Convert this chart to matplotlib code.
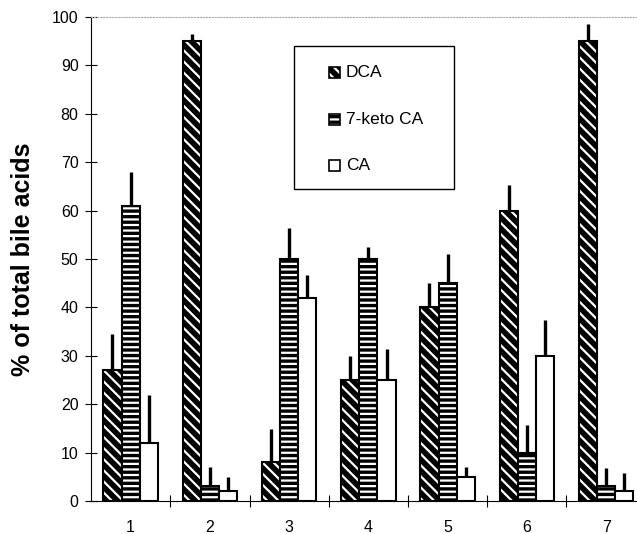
import numpy as np
import matplotlib
matplotlib.use('Agg')
import matplotlib.pyplot as plt
from matplotlib.patches import Rectangle

# data (% of total bile acids)
groups = ['1', '2', '3', '4', '5', '6', '7']
dca = [27, 95, 8, 25, 40, 60, 95]
keto = [61, 3, 50, 50, 45, 10, 3]
ca = [12, 2, 42, 25, 5, 30, 2]
# upper error only
dca_err = [7.5, 1.5, 6.8, 5, 5, 5.3, 3.5]
keto_err = [7, 4, 6.5, 2.5, 6, 5.6, 3.8]
ca_err = [9.9, 2.9, 4.7, 6.5, 2, 7.4, 3.8]

series_names = ['DCA', '7-keto CA', 'CA']

plt.rcParams['font.family'] = ['Liberation Sans', 'DejaVu Sans']
plt.rcParams['hatch.linewidth'] = 1.6

fig = plt.figure(figsize=(6.37, 5.34), dpi=100)
ax = fig.add_axes([0.1429, 0.0618, 0.8571, 0.9064])

x = np.arange(1, len(groups) + 1)
w = 0.23

def draw_series(xpos, vals, errs, hatch, face):
    if hatch:
        ax.bar(xpos, vals, w, color=face, edgecolor='white', hatch=hatch, linewidth=0)
        ax.bar(xpos, vals, w, fill=False, edgecolor='black', linewidth=1.5)
    else:
        ax.bar(xpos, vals, w, color=face, edgecolor='black', linewidth=1.5)
    ax.errorbar(xpos, vals, yerr=[np.zeros(len(vals)), errs], fmt='none',
                ecolor='black', elinewidth=2.4, capsize=0, zorder=1)

draw_series(x - w, dca, dca_err, '\\\\\\', 'black')
draw_series(x, keto, keto_err, '---', 'black')
draw_series(x + w, ca, ca_err, None, 'white')

# axes styling
ax.set_xlim(0.5, 7.39)
ax.set_ylim(0, 100)
ax.set_yticks(np.arange(0, 101, 10))
ax.set_xticks(x)
ax.set_xticklabels(groups)
ax.set_xticks(np.arange(1.5, 7.0, 1.0), minor=True)
ax.tick_params(axis='x', which='major', length=0, pad=14, labelsize=11.5)
ax.tick_params(axis='x', which='minor', direction='inout', length=8, width=0.8)
ax.tick_params(axis='y', direction='inout', length=8, width=0.8, labelsize=11.5, pad=5)

ax.spines['right'].set_visible(False)
ax.spines['top'].set_color('#aaaaaa')
ax.spines['top'].set_linestyle(':')
ax.spines['top'].set_linewidth(0.8)
ax.spines['left'].set_linewidth(0.8)
ax.spines['bottom'].set_linewidth(0.8)

ax.set_ylabel('% of total bile acids', fontsize=18, fontweight='bold', labelpad=12)

# legend box drawn by hand
ax.add_patch(Rectangle((0.372, 0.645), 0.293, 0.295, transform=ax.transAxes,
                       fill=False, edgecolor='black', linewidth=1.0, clip_on=False))
leg_y = [0.886, 0.789, 0.693]
leg_style = [('\\\\\\', 'black'), ('---', 'black'), (None, 'white')]
mw, mh = 0.020, 0.0227
for name, ly, (hatch, face) in zip(series_names, leg_y, leg_style):
    if hatch:
        ax.add_patch(Rectangle((0.4365, ly - mh / 2), mw, mh, transform=ax.transAxes,
                               facecolor=face, edgecolor='white', hatch=hatch, linewidth=0))
    ax.add_patch(Rectangle((0.4365, ly - mh / 2), mw, mh, transform=ax.transAxes,
                           facecolor='none' if hatch else face, edgecolor='black', linewidth=1.2))
    ax.text(0.4665, ly, name, transform=ax.transAxes, fontsize=12.5, va='center', ha='left')

fig.savefig('out.png', dpi=100)
